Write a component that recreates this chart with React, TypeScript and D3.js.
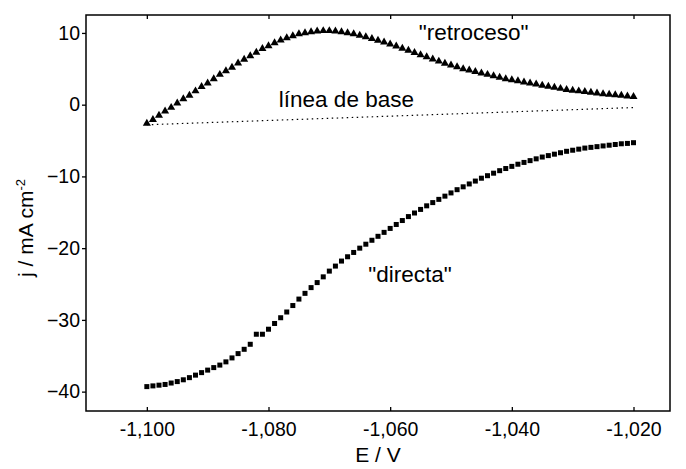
import { useEffect, useRef } from 'react'
import * as d3 from 'd3'

// potential (V), one sample every mV
const potentials = [
  -1.100, -1.099, -1.098, -1.097, -1.096, -1.095, -1.094, -1.093, -1.092, -1.091,
  -1.090, -1.089, -1.088, -1.087, -1.086, -1.085, -1.084, -1.083, -1.082, -1.081,
  -1.080, -1.079, -1.078, -1.077, -1.076, -1.075, -1.074, -1.073, -1.072, -1.071,
  -1.070, -1.069, -1.068, -1.067, -1.066, -1.065, -1.064, -1.063, -1.062, -1.061,
  -1.060, -1.059, -1.058, -1.057, -1.056, -1.055, -1.054, -1.053, -1.052, -1.051,
  -1.050, -1.049, -1.048, -1.047, -1.046, -1.045, -1.044, -1.043, -1.042, -1.041,
  -1.040, -1.039, -1.038, -1.037, -1.036, -1.035, -1.034, -1.033, -1.032, -1.031,
  -1.030, -1.029, -1.028, -1.027, -1.026, -1.025, -1.024, -1.023, -1.022, -1.021,
  -1.020,
]

// "retroceso" (triangles), mA cm-2
const retroceso = [
  -2.6, -2.1, -1.5, -0.9, -0.4, 0.2, 0.8, 1.3, 1.9, 2.5,
  3.0, 3.6, 4.2, 4.7, 5.2, 5.8, 6.3, 6.8, 7.3, 7.8,
  8.2, 8.6, 9.0, 9.3, 9.6, 9.85, 10.0, 10.15, 10.25, 10.3,
  10.3, 10.25, 10.15, 10.0, 9.85, 9.65, 9.45, 9.2, 8.95, 8.7,
  8.45, 8.15, 7.85, 7.55, 7.25, 6.95, 6.65, 6.35, 6.05, 5.75,
  5.5, 5.25, 5.0, 4.8, 4.6, 4.4, 4.2, 4.0, 3.8, 3.6,
  3.45, 3.3, 3.15, 3.0, 2.85, 2.7, 2.55, 2.4, 2.25, 2.1,
  2.0, 1.9, 1.8, 1.7, 1.6, 1.5, 1.42, 1.35, 1.28, 1.2,
  1.12,
]

// "directa" (squares), mA cm-2
const directa = [
  -39.3, -39.2, -39.1, -39.0, -38.8, -38.6, -38.35, -38.05, -37.7, -37.35,
  -37.0, -36.65, -36.3, -35.85, -35.3, -34.7, -34.1, -33.4, -32.0, -32.0,
  -31.3, -30.5, -29.7, -28.9, -28.0, -27.1, -26.3, -25.5, -24.8, -24.0,
  -23.2, -22.5, -21.8, -21.2, -20.6, -20.0, -19.45, -18.9, -18.35, -17.8,
  -17.25, -16.7, -16.15, -15.6, -15.1, -14.6, -14.1, -13.65, -13.2, -12.75,
  -12.3, -11.85, -11.45, -11.05, -10.65, -10.25, -9.9, -9.55, -9.2, -8.9,
  -8.6, -8.3, -8.05, -7.8, -7.55, -7.3, -7.1, -6.9, -6.7, -6.5,
  -6.35, -6.2, -6.05, -5.95, -5.85, -5.75, -5.65, -5.55, -5.45, -5.4,
  -5.3,
]

// dotted baseline end points
const baseE = [-1.100, -1.020]
const baseJ = [-2.8, -0.4]

const xTicks = [-1.100, -1.080, -1.060, -1.040, -1.020]
const xTickLabels = ['-1,100', '-1,080', '-1,060', '-1,040', '-1,020']
const yTicks = [10, 0, -10, -20, -30, -40]

const W = 686
const H = 469
const FONT = '"Liberation Sans", Arial, sans-serif'

export default function App() {
  const svgRef = useRef<SVGSVGElement>(null)

  useEffect(() => {
    if (!svgRef.current) return
    const svg = d3.select(svgRef.current)
    svg.selectAll('*').remove()

    const left = 86, right = 670, top = 15, bottom = 411

    const x = d3.scaleLinear().domain([-1.110, -1.014]).range([left, right])
    const y = d3.scaleLinear().domain([-42.7, 12.5]).range([bottom, top])

    const g = svg.append('g')

    // baseline
    g.append('line')
      .attr('x1', x(baseE[0]))
      .attr('y1', y(baseJ[0]))
      .attr('x2', x(baseE[1]))
      .attr('y2', y(baseJ[1]))
      .attr('stroke', '#000')
      .attr('stroke-width', 1.2)
      .attr('stroke-dasharray', '1.5,3.5')

    // triangles
    const tri = d3.symbol().type(d3.symbolTriangle).size(28)
    g.selectAll('.tri')
      .data(potentials)
      .enter().append('path')
      .attr('class', 'tri')
      .attr('d', tri)
      .attr('transform', (d, i) => `translate(${x(d)},${y(retroceso[i])})`)
      .attr('fill', '#000')

    // squares
    const sq = 5
    g.selectAll('.sq')
      .data(potentials)
      .enter().append('rect')
      .attr('class', 'sq')
      .attr('x', d => x(d) - sq / 2)
      .attr('y', (d, i) => y(directa[i]) - sq / 2)
      .attr('width', sq)
      .attr('height', sq)
      .attr('fill', '#000')

    // frame
    g.append('rect')
      .attr('x', left)
      .attr('y', top)
      .attr('width', right - left)
      .attr('height', bottom - top)
      .attr('fill', 'none')
      .attr('stroke', '#000')
      .attr('stroke-width', 1.5)

    // x axis, ticks pointing in
    const xAxis = g.append('g').attr('transform', `translate(0,${bottom})`)
      .call(d3.axisBottom(x).tickValues(xTicks).tickSizeInner(-4).tickSizeOuter(0)
        .tickPadding(11).tickFormat((d, i) => xTickLabels[i]))
    xAxis.select('.domain').remove()

    const xTop = g.append('g').attr('transform', `translate(0,${top})`)
      .call(d3.axisTop(x).tickValues(xTicks).tickSizeInner(-4).tickSizeOuter(0)
        .tickFormat(() => ''))
    xTop.select('.domain').remove()

    // y axis, ticks pointing out
    const yAxis = g.append('g').attr('transform', `translate(${left},0)`)
      .call(d3.axisLeft(y).tickValues(yTicks).tickSizeInner(4).tickSizeOuter(0)
        .tickPadding(2).tickFormat(d3.format('d')))
    yAxis.select('.domain').remove()

    svg.selectAll('.tick line').attr('stroke', '#000').attr('stroke-width', 1.3)
    svg.selectAll('.tick text')
      .attr('fill', '#000')
      .style('font-family', FONT)
      .style('font-size', '19.5px')

    // annotations
    const ann = (tx: number, ty: number, s: string) =>
      g.append('text')
        .attr('x', tx)
        .attr('y', ty)
        .style('font-family', FONT)
        .style('font-size', '22.5px')
        .attr('fill', '#000')
        .text(s)

    ann(x(-1.0553), y(9.0), '"retroceso"')
    ann(x(-1.0783), y(-0.3), 'línea de base')
    ann(x(-1.0636), y(-24.7), '"directa"')

    // axis titles
    g.append('text')
      .attr('x', (left + right) / 2)
      .attr('y', 462)
      .attr('text-anchor', 'middle')
      .style('font-family', FONT)
      .style('font-size', '21px')
      .text('E / V')

    const yl = g.append('text')
      .attr('transform', `translate(33,228) rotate(-90)`)
      .attr('text-anchor', 'middle')
      .style('font-family', FONT)
      .style('font-size', '21px')
    yl.append('tspan').text('j / mA cm')
    yl.append('tspan').attr('dy', -8).style('font-size', '13px').text('-2')
  }, [])

  return (
    <svg
      ref={svgRef}
      width={W}
      height={H}
      style={{ position: 'absolute', left: 0, top: 0, background: '#fff' }}
    />
  )
}
